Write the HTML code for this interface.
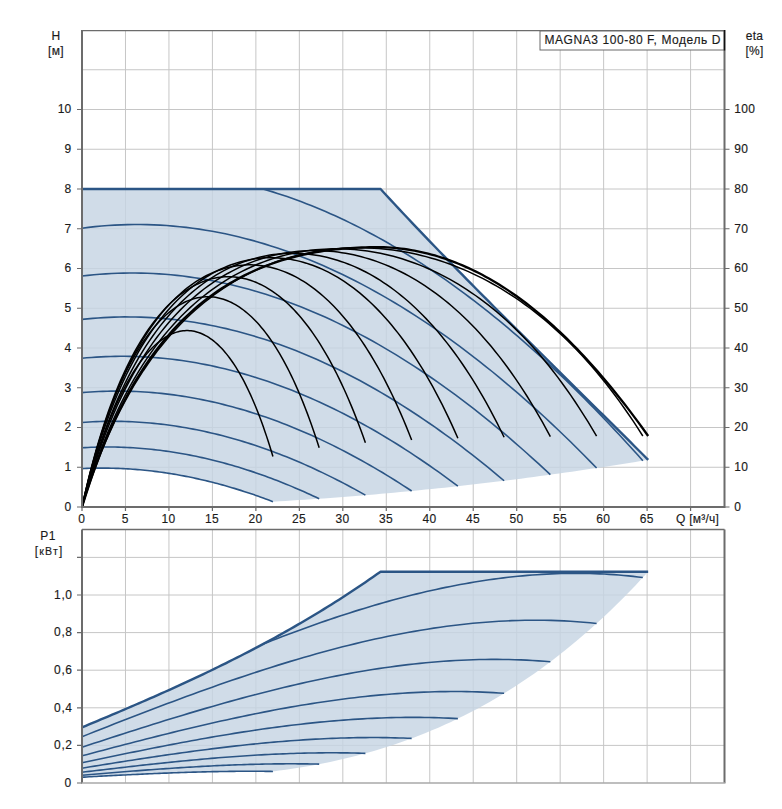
<!DOCTYPE html>
<html><head><meta charset="utf-8"><style>html,body{margin:0;padding:0;background:#fff;width:782px;height:809px;overflow:hidden}</style></head>
<body><svg width="782" height="809" viewBox="0 0 782 809" style="display:block"><rect width="782" height="809" fill="#fff"/><path d="M125.47,30V507M168.94,30V507M212.41,30V507M255.88,30V507M299.35,30V507M342.82,30V507M386.29,30V507M429.76,30V507M473.23,30V507M516.70,30V507M560.17,30V507M603.64,30V507M647.11,30V507M690.58,30V507M82,467.25H724.5M82,427.50H724.5M82,387.75H724.5M82,348.00H724.5M82,308.25H724.5M82,268.50H724.5M82,228.75H724.5M82,189.00H724.5M82,149.25H724.5M82,109.50H724.5M82,69.75H724.5" stroke="#c6c6c6" stroke-width="1" fill="none"/><path d="M82,468.62 L85.24,468.47 L88.47,468.35 L91.71,468.25 L94.94,468.18 L98.18,468.13 L101.42,468.11 L104.65,468.12 L107.89,468.15 L111.13,468.2 L114.36,468.28 L117.6,468.39 L120.83,468.52 L124.07,468.67 L127.31,468.85 L130.54,469.06 L133.78,469.29 L137.01,469.54 L140.25,469.82 L143.49,470.13 L146.72,470.45 L149.96,470.81 L153.19,471.19 L156.43,471.59 L159.67,472.01 L162.9,472.46 L166.14,472.94 L169.38,473.43 L172.61,473.96 L175.85,474.5 L179.08,475.07 L182.32,475.67 L185.56,476.28 L188.79,476.92 L192.03,477.59 L195.26,478.28 L198.5,478.99 L201.74,479.72 L204.97,480.48 L208.21,481.26 L211.45,482.06 L214.68,482.89 L217.92,483.74 L221.15,484.61 L224.39,485.51 L227.63,486.43 L230.86,487.37 L234.1,488.33 L237.33,489.32 L240.57,490.33 L243.81,491.36 L247.04,492.41 L250.28,493.49 L253.52,494.58 L256.75,495.7 L259.99,496.85 L263.22,498.01 L266.46,499.19 L269.7,500.4 L272.93,501.63 L272.93,501.63 L279.29,501.27 L285.65,500.89 L292.01,500.51 L298.37,500.11 L304.73,499.69 L311.09,499.27 L317.45,498.84 L323.81,498.39 L330.17,497.93 L336.53,497.46 L342.89,496.98 L349.25,496.48 L355.61,495.98 L361.97,495.46 L368.33,494.93 L374.69,494.39 L381.05,493.83 L387.41,493.27 L393.77,492.69 L400.13,492.1 L406.49,491.5 L412.85,490.88 L419.21,490.26 L425.57,489.62 L431.93,488.97 L438.29,488.31 L444.65,487.63 L451.01,486.95 L457.37,486.25 L463.73,485.54 L470.09,484.82 L476.45,484.09 L482.81,483.34 L489.17,482.59 L495.53,481.82 L501.89,481.04 L508.24,480.25 L514.6,479.44 L520.96,478.63 L527.32,477.8 L533.68,476.96 L540.04,476.11 L546.4,475.24 L552.76,474.37 L559.12,473.48 L565.48,472.58 L571.84,471.67 L578.2,470.74 L584.56,469.81 L590.92,468.86 L597.28,467.9 L603.64,466.93 L610,465.95 L616.36,464.95 L622.72,463.95 L629.08,462.93 L635.44,461.9 L641.8,460.85 L648.16,459.8 L648.16,459.8 L643.63,455.27 L639.09,450.75 L634.56,446.24 L630.02,441.72 L625.49,437.21 L620.95,432.71 L616.42,428.21 L611.88,423.71 L607.34,419.22 L602.81,414.72 L598.27,410.23 L593.74,405.74 L589.2,401.26 L584.67,396.77 L580.13,392.29 L575.6,387.8 L571.06,383.32 L566.53,378.84 L561.99,374.35 L557.46,369.87 L552.92,365.38 L548.39,360.89 L543.85,356.4 L539.32,351.91 L534.78,347.41 L530.25,342.91 L525.71,338.41 L521.18,333.91 L516.64,329.39 L512.11,324.88 L507.57,320.35 L503.04,315.83 L498.5,311.29 L493.97,306.75 L489.43,302.2 L484.9,297.64 L480.36,293.07 L475.83,288.5 L471.29,283.91 L466.76,279.31 L462.22,274.7 L457.69,270.08 L453.15,265.45 L448.62,260.81 L444.08,256.15 L439.55,251.47 L435.01,246.78 L430.48,242.08 L425.94,237.35 L421.41,232.61 L416.87,227.85 L412.34,223.07 L407.8,218.27 L403.27,213.45 L398.73,208.61 L394.2,203.75 L389.66,198.86 L385.13,193.94 L380.59,189 L82,189 L82,468.62 Z" fill="#c6d4e3" fill-opacity="0.82" stroke="none"/><path d="M82,468.62 L84.42,468.51 L86.83,468.41 L89.25,468.32 L91.67,468.25 L94.08,468.2 L96.5,468.15 L98.92,468.12 L101.33,468.11 L103.75,468.11 L106.17,468.13 L108.59,468.15 L111,468.2 L113.42,468.25 L115.84,468.33 L118.25,468.41 L120.67,468.51 L123.09,468.62 L125.5,468.75 L127.92,468.89 L130.34,469.04 L132.75,469.21 L135.17,469.39 L137.59,469.59 L140,469.8 L142.42,470.02 L144.84,470.26 L147.26,470.51 L149.67,470.78 L152.09,471.05 L154.51,471.34 L156.92,471.65 L159.34,471.97 L161.76,472.3 L164.17,472.65 L166.59,473 L169.01,473.38 L171.42,473.76 L173.84,474.16 L176.26,474.57 L178.67,475 L181.09,475.44 L183.51,475.89 L185.92,476.35 L188.34,476.83 L190.76,477.32 L193.18,477.83 L195.59,478.35 L198.01,478.88 L200.43,479.42 L202.84,479.98 L205.26,480.55 L207.68,481.13 L210.09,481.72 L212.51,482.33 L214.93,482.95 L217.34,483.59 L219.76,484.23 L222.18,484.89 L224.59,485.57 L227.01,486.25 L229.43,486.95 L231.85,487.66 L234.26,488.38 L236.68,489.12 L239.1,489.86 L241.51,490.62 L243.93,491.4 L246.35,492.18 L248.76,492.98 L251.18,493.79 L253.6,494.61 L256.01,495.45 L258.43,496.29 L260.85,497.15 L263.26,498.02 L265.68,498.91 L268.1,499.8 L270.51,500.71 L272.93,501.63" stroke="#2b5585" stroke-width="1.6" fill="none"/><path d="M82,447.78 L85,447.61 L88,447.45 L91.01,447.32 L94.01,447.21 L97.01,447.13 L100.01,447.06 L103.01,447.02 L106.02,447 L109.02,447 L112.02,447.02 L115.02,447.06 L118.03,447.13 L121.03,447.22 L124.03,447.33 L127.03,447.46 L130.03,447.61 L133.04,447.78 L136.04,447.98 L139.04,448.2 L142.04,448.44 L145.04,448.7 L148.05,448.98 L151.05,449.28 L154.05,449.6 L157.05,449.95 L160.06,450.31 L163.06,450.7 L166.06,451.11 L169.06,451.54 L172.06,451.99 L175.07,452.46 L178.07,452.95 L181.07,453.46 L184.07,453.99 L187.07,454.55 L190.08,455.12 L193.08,455.72 L196.08,456.33 L199.08,456.97 L202.09,457.62 L205.09,458.3 L208.09,459 L211.09,459.72 L214.09,460.45 L217.1,461.21 L220.1,461.99 L223.1,462.79 L226.1,463.61 L229.1,464.45 L232.11,465.31 L235.11,466.18 L238.11,467.08 L241.11,468 L244.11,468.94 L247.12,469.9 L250.12,470.88 L253.12,471.87 L256.12,472.89 L259.13,473.93 L262.13,474.98 L265.13,476.06 L268.13,477.16 L271.13,478.27 L274.14,479.41 L277.14,480.56 L280.14,481.73 L283.14,482.92 L286.14,484.14 L289.15,485.37 L292.15,486.62 L295.15,487.89 L298.15,489.17 L301.16,490.48 L304.16,491.81 L307.16,493.15 L310.16,494.51 L313.16,495.9 L316.17,497.3 L319.17,498.72" stroke="#2b5585" stroke-width="1.6" fill="none"/><path d="M82,422.44 L85.59,422.19 L89.17,421.97 L92.76,421.78 L96.35,421.63 L99.94,421.5 L103.52,421.41 L107.11,421.35 L110.7,421.32 L114.29,421.32 L117.87,421.35 L121.46,421.42 L125.05,421.51 L128.64,421.64 L132.22,421.79 L135.81,421.98 L139.4,422.2 L142.99,422.45 L146.57,422.72 L150.16,423.03 L153.75,423.38 L157.34,423.75 L160.92,424.15 L164.51,424.58 L168.1,425.04 L171.68,425.53 L175.27,426.05 L178.86,426.61 L182.45,427.19 L186.03,427.8 L189.62,428.44 L193.21,429.12 L196.8,429.82 L200.38,430.55 L203.97,431.31 L207.56,432.1 L211.15,432.92 L214.73,433.77 L218.32,434.65 L221.91,435.56 L225.5,436.49 L229.08,437.46 L232.67,438.46 L236.26,439.48 L239.85,440.54 L243.43,441.62 L247.02,442.73 L250.61,443.87 L254.2,445.04 L257.78,446.24 L261.37,447.46 L264.96,448.72 L268.54,450 L272.13,451.31 L275.72,452.65 L279.31,454.02 L282.89,455.42 L286.48,456.84 L290.07,458.3 L293.66,459.78 L297.24,461.28 L300.83,462.82 L304.42,464.39 L308.01,465.98 L311.59,467.6 L315.18,469.24 L318.77,470.92 L322.36,472.62 L325.94,474.35 L329.53,476.11 L333.12,477.89 L336.71,479.71 L340.29,481.54 L343.88,483.41 L347.47,485.3 L351.05,487.22 L354.64,489.17 L358.23,491.14 L361.82,493.15 L365.4,495.17" stroke="#2b5585" stroke-width="1.6" fill="none"/><path d="M82,392.6 L86.17,392.26 L90.35,391.96 L94.52,391.71 L98.69,391.5 L102.86,391.33 L107.04,391.21 L111.21,391.12 L115.38,391.08 L119.55,391.08 L123.73,391.13 L127.9,391.21 L132.07,391.34 L136.24,391.51 L140.42,391.72 L144.59,391.97 L148.76,392.27 L152.94,392.61 L157.11,392.98 L161.28,393.4 L165.45,393.86 L169.63,394.36 L173.8,394.91 L177.97,395.49 L182.14,396.12 L186.32,396.78 L190.49,397.49 L194.66,398.24 L198.83,399.02 L203.01,399.85 L207.18,400.72 L211.35,401.63 L215.53,402.58 L219.7,403.57 L223.87,404.6 L228.04,405.67 L232.22,406.78 L236.39,407.93 L240.56,409.12 L244.73,410.34 L248.91,411.61 L253.08,412.92 L257.25,414.27 L261.42,415.65 L265.6,417.08 L269.77,418.54 L273.94,420.05 L278.12,421.59 L282.29,423.17 L286.46,424.79 L290.63,426.45 L294.81,428.15 L298.98,429.89 L303.15,431.66 L307.32,433.47 L311.5,435.32 L315.67,437.21 L319.84,439.14 L324.01,441.11 L328.19,443.11 L332.36,445.15 L336.53,447.23 L340.71,449.35 L344.88,451.5 L349.05,453.69 L353.22,455.92 L357.4,458.19 L361.57,460.49 L365.74,462.83 L369.91,465.21 L374.09,467.62 L378.26,470.07 L382.43,472.56 L386.6,475.09 L390.78,477.65 L394.95,480.24 L399.12,482.88 L403.3,485.55 L407.47,488.26 L411.64,491" stroke="#2b5585" stroke-width="1.6" fill="none"/><path d="M82,358.26 L86.76,357.82 L91.52,357.43 L96.27,357.1 L101.03,356.83 L105.79,356.61 L110.55,356.45 L115.31,356.34 L120.06,356.28 L124.82,356.29 L129.58,356.34 L134.34,356.45 L139.1,356.62 L143.85,356.84 L148.61,357.11 L153.37,357.44 L158.13,357.83 L162.88,358.26 L167.64,358.76 L172.4,359.3 L177.16,359.9 L181.92,360.55 L186.67,361.26 L191.43,362.02 L196.19,362.83 L200.95,363.7 L205.71,364.61 L210.46,365.59 L215.22,366.61 L219.98,367.69 L224.74,368.82 L229.5,370 L234.25,371.23 L239.01,372.52 L243.77,373.86 L248.53,375.25 L253.29,376.69 L258.04,378.19 L262.8,379.73 L267.56,381.33 L272.32,382.98 L277.08,384.68 L281.83,386.43 L286.59,388.23 L291.35,390.09 L296.11,391.99 L300.87,393.95 L305.62,395.95 L310.38,398.01 L315.14,400.11 L319.9,402.27 L324.65,404.48 L329.41,406.74 L334.17,409.04 L338.93,411.4 L343.69,413.81 L348.44,416.26 L353.2,418.77 L357.96,421.33 L362.72,423.93 L367.48,426.58 L372.23,429.29 L376.99,432.04 L381.75,434.84 L386.51,437.69 L391.27,440.59 L396.02,443.53 L400.78,446.53 L405.54,449.57 L410.3,452.66 L415.06,455.8 L419.81,458.99 L424.57,462.22 L429.33,465.51 L434.09,468.84 L438.85,472.21 L443.6,475.64 L448.36,479.11 L453.12,482.63 L457.88,486.2" stroke="#2b5585" stroke-width="1.6" fill="none"/><path d="M82,319.41 L87.34,318.86 L92.69,318.37 L98.03,317.96 L103.37,317.61 L108.72,317.33 L114.06,317.13 L119.4,316.99 L124.75,316.92 L130.09,316.93 L135.43,317 L140.78,317.14 L146.12,317.35 L151.46,317.63 L156.8,317.97 L162.15,318.39 L167.49,318.87 L172.83,319.42 L178.18,320.04 L183.52,320.73 L188.86,321.48 L194.21,322.31 L199.55,323.2 L204.89,324.15 L210.24,325.18 L215.58,326.27 L220.92,327.43 L226.27,328.65 L231.61,329.95 L236.95,331.3 L242.3,332.73 L247.64,334.22 L252.98,335.78 L258.33,337.4 L263.67,339.09 L269.01,340.84 L274.36,342.66 L279.7,344.55 L285.04,346.5 L290.39,348.51 L295.73,350.59 L301.07,352.73 L306.41,354.94 L311.76,357.22 L317.1,359.55 L322.44,361.96 L327.79,364.42 L333.13,366.95 L338.47,369.54 L343.82,372.2 L349.16,374.92 L354.5,377.71 L359.85,380.55 L365.19,383.46 L370.53,386.44 L375.88,389.47 L381.22,392.57 L386.56,395.73 L391.91,398.95 L397.25,402.24 L402.59,405.58 L407.94,408.99 L413.28,412.46 L418.62,415.99 L423.97,419.59 L429.31,423.24 L434.65,426.96 L439.99,430.74 L445.34,434.57 L450.68,438.47 L456.02,442.43 L461.37,446.45 L466.71,450.53 L472.05,454.67 L477.4,458.87 L482.74,463.13 L488.08,467.45 L493.43,471.83 L498.77,476.27 L504.11,480.76" stroke="#2b5585" stroke-width="1.6" fill="none"/><path d="M82,276.07 L87.93,275.38 L93.86,274.79 L99.79,274.27 L105.71,273.85 L111.64,273.51 L117.57,273.25 L123.5,273.09 L129.43,273 L135.36,273.01 L141.28,273.09 L147.21,273.27 L153.14,273.53 L159.07,273.87 L165,274.29 L170.93,274.81 L176.86,275.4 L182.78,276.08 L188.71,276.84 L194.64,277.69 L200.57,278.62 L206.5,279.63 L212.43,280.73 L218.35,281.91 L224.28,283.17 L230.21,284.51 L236.14,285.94 L242.07,287.44 L248,289.04 L253.93,290.71 L259.85,292.46 L265.78,294.3 L271.71,296.21 L277.64,298.21 L283.57,300.29 L289.5,302.45 L295.43,304.69 L301.35,307.01 L307.28,309.41 L313.21,311.89 L319.14,314.45 L325.07,317.09 L331,319.81 L336.92,322.61 L342.85,325.48 L348.78,328.44 L354.71,331.48 L360.64,334.59 L366.57,337.78 L372.5,341.05 L378.42,344.4 L384.35,347.83 L390.28,351.33 L396.21,354.92 L402.14,358.58 L408.07,362.31 L413.99,366.13 L419.92,370.02 L425.85,373.99 L431.78,378.03 L437.71,382.15 L443.64,386.35 L449.57,390.62 L455.49,394.97 L461.42,399.39 L467.35,403.89 L473.28,408.46 L479.21,413.11 L485.14,417.84 L491.06,422.64 L496.99,427.51 L502.92,432.46 L508.85,437.48 L514.78,442.58 L520.71,447.75 L526.64,452.99 L532.56,458.31 L538.49,463.7 L544.42,469.16 L550.35,474.7" stroke="#2b5585" stroke-width="1.6" fill="none"/><path d="M82,228.22 L88.51,227.4 L95.03,226.67 L101.54,226.06 L108.05,225.54 L114.57,225.13 L121.08,224.83 L127.6,224.62 L134.11,224.52 L140.62,224.53 L147.14,224.63 L153.65,224.84 L160.16,225.15 L166.68,225.56 L173.19,226.08 L179.71,226.7 L186.22,227.42 L192.73,228.23 L199.25,229.16 L205.76,230.18 L212.27,231.3 L218.79,232.52 L225.3,233.84 L231.82,235.27 L238.33,236.79 L244.84,238.41 L251.36,240.13 L257.87,241.96 L264.38,243.88 L270.9,245.89 L277.41,248.01 L283.93,250.23 L290.44,252.54 L296.95,254.95 L303.47,257.46 L309.98,260.07 L316.49,262.77 L323.01,265.57 L329.52,268.47 L336.04,271.46 L342.55,274.55 L349.06,277.74 L355.58,281.02 L362.09,284.4 L368.6,287.88 L375.12,291.45 L381.63,295.11 L388.15,298.87 L394.66,302.72 L401.17,306.67 L407.69,310.72 L414.2,314.85 L420.71,319.08 L427.23,323.41 L433.74,327.83 L440.26,332.34 L446.77,336.94 L453.28,341.64 L459.8,346.43 L466.31,351.31 L472.82,356.28 L479.34,361.35 L485.85,366.51 L492.37,371.75 L498.88,377.09 L505.39,382.53 L511.91,388.05 L518.42,393.66 L524.93,399.36 L531.45,405.16 L537.96,411.04 L544.48,417.01 L550.99,423.08 L557.5,429.23 L564.02,435.47 L570.53,441.8 L577.04,448.22 L583.56,454.73 L590.07,461.32 L596.59,468.01" stroke="#2b5585" stroke-width="1.6" fill="none"/><path d="M263.07,189 L267.88,190.41 L272.69,191.88 L277.49,193.4 L282.3,194.97 L287.11,196.6 L291.91,198.28 L296.72,200.02 L301.53,201.81 L306.34,203.65 L311.14,205.54 L315.95,207.49 L320.76,209.49 L325.56,211.55 L330.37,213.66 L335.18,215.82 L339.98,218.03 L344.79,220.3 L349.6,222.62 L354.4,224.99 L359.21,227.41 L364.02,229.89 L368.83,232.42 L373.63,235 L378.44,237.64 L383.25,240.32 L388.05,243.06 L392.86,245.85 L397.67,248.69 L402.47,251.59 L407.28,254.53 L412.09,257.53 L416.9,260.58 L421.7,263.68 L426.51,266.83 L431.32,270.04 L436.12,273.29 L440.93,276.6 L445.74,279.96 L450.54,283.36 L455.35,286.82 L460.16,290.33 L464.96,293.9 L469.77,297.51 L474.58,301.17 L479.39,304.88 L484.19,308.65 L489,312.46 L493.81,316.33 L498.61,320.24 L503.42,324.21 L508.23,328.22 L513.03,332.29 L517.84,336.4 L522.65,340.57 L527.46,344.78 L532.26,349.05 L537.07,353.36 L541.88,357.73 L546.68,362.14 L551.49,366.6 L556.3,371.11 L561.1,375.68 L565.91,380.29 L570.72,384.95 L575.52,389.66 L580.33,394.41 L585.14,399.22 L589.95,404.08 L594.75,408.98 L599.56,413.93 L604.37,418.93 L609.17,423.98 L613.98,429.08 L618.79,434.23 L623.59,439.43 L628.4,444.67 L633.21,449.96 L638.02,455.3 L642.82,460.69" stroke="#2b5585" stroke-width="1.6" fill="none"/><path d="M82,189 L380.59,189 L380.59,189 L385.13,193.94 L389.66,198.86 L394.2,203.75 L398.73,208.61 L403.27,213.45 L407.8,218.27 L412.34,223.07 L416.87,227.85 L421.41,232.61 L425.94,237.35 L430.48,242.08 L435.01,246.78 L439.55,251.47 L444.08,256.15 L448.62,260.81 L453.15,265.45 L457.69,270.08 L462.22,274.7 L466.76,279.31 L471.29,283.91 L475.83,288.5 L480.36,293.07 L484.9,297.64 L489.43,302.2 L493.97,306.75 L498.5,311.29 L503.04,315.83 L507.57,320.35 L512.11,324.88 L516.64,329.39 L521.18,333.91 L525.71,338.41 L530.25,342.91 L534.78,347.41 L539.32,351.91 L543.85,356.4 L548.39,360.89 L552.92,365.38 L557.46,369.87 L561.99,374.35 L566.53,378.84 L571.06,383.32 L575.6,387.8 L580.13,392.29 L584.67,396.77 L589.2,401.26 L593.74,405.74 L598.27,410.23 L602.81,414.72 L607.34,419.22 L611.88,423.71 L616.42,428.21 L620.95,432.71 L625.49,437.21 L630.02,441.72 L634.56,446.24 L639.09,450.75 L643.63,455.27 L648.16,459.8" stroke="#2b5585" stroke-width="2.4" fill="none" stroke-linejoin="round"/><path d="M82,507 L83.6,500.82 L85.21,494.8 L86.81,488.93 L88.42,483.21 L90.02,477.64 L91.63,472.21 L93.23,466.92 L94.84,461.77 L96.44,456.75 L98.04,451.85 L99.65,447.09 L101.25,442.45 L102.86,437.93 L104.46,433.53 L106.07,429.25 L107.67,425.08 L109.28,421.02 L110.88,417.07 L112.48,413.23 L114.09,409.49 L115.69,405.86 L117.3,402.33 L118.9,398.89 L120.51,395.56 L122.11,392.32 L123.72,389.18 L125.32,386.14 L126.93,383.18 L128.53,380.32 L130.13,377.54 L131.74,374.85 L133.34,372.26 L134.95,369.74 L136.55,367.31 L138.16,364.97 L139.76,362.71 L141.37,360.53 L142.97,358.44 L144.57,356.42 L146.18,354.49 L147.78,352.63 L149.39,350.85 L150.99,349.15 L152.6,347.53 L154.2,345.98 L155.81,344.51 L157.41,343.11 L159.01,341.79 L160.62,340.55 L162.22,339.38 L163.83,338.28 L165.43,337.26 L167.04,336.31 L168.64,335.43 L170.25,334.63 L171.85,333.9 L173.45,333.25 L175.06,332.66 L176.66,332.15 L178.27,331.71 L179.87,331.34 L181.48,331.05 L183.08,330.83 L184.69,330.68 L186.29,330.61 L187.89,330.61 L189.5,330.68 L191.1,330.83 L192.71,331.05 L194.31,331.35 L195.92,331.72 L197.52,332.16 L199.13,332.69 L200.73,333.29 L202.34,333.96 L203.94,334.72 L205.54,335.55 L207.15,336.46 L208.75,337.45 L210.36,338.52 L211.96,339.67 L213.57,340.91 L215.17,342.23 L216.78,343.63 L218.38,345.11 L219.98,346.69 L221.59,348.35 L223.19,350.1 L224.8,351.93 L226.4,353.86 L228.01,355.88 L229.61,358 L231.22,360.21 L232.82,362.51 L234.42,364.91 L236.03,367.42 L237.63,370.02 L239.24,372.72 L240.84,375.53 L242.45,378.45 L244.05,381.47 L245.66,384.6 L247.26,387.84 L248.86,391.2 L250.47,394.67 L252.07,398.25 L253.68,401.96 L255.28,405.79 L256.89,409.74 L258.49,413.81 L260.1,418.01 L261.7,422.34 L263.31,426.81 L264.91,431.4 L266.51,436.13 L268.12,441 L269.72,446.01 L271.33,451.16 L272.93,456.46" stroke="#000" stroke-width="1.5" fill="none"/><path d="M82,507 L83.99,498.27 L85.99,489.86 L87.98,481.77 L89.97,473.98 L91.97,466.46 L93.96,459.22 L95.95,452.24 L97.94,445.5 L99.94,439 L101.93,432.72 L103.92,426.66 L105.92,420.81 L107.91,415.16 L109.9,409.7 L111.9,404.43 L113.89,399.33 L115.88,394.41 L117.87,389.66 L119.87,385.07 L121.86,380.63 L123.85,376.35 L125.85,372.22 L127.84,368.22 L129.83,364.37 L131.83,360.65 L133.82,357.06 L135.81,353.6 L137.8,350.27 L139.8,347.05 L141.79,343.96 L143.78,340.98 L145.78,338.12 L147.77,335.36 L149.76,332.72 L151.76,330.18 L153.75,327.75 L155.74,325.42 L157.73,323.19 L159.73,321.06 L161.72,319.03 L163.71,317.09 L165.71,315.25 L167.7,313.5 L169.69,311.85 L171.69,310.28 L173.68,308.81 L175.67,307.42 L177.66,306.12 L179.66,304.91 L181.65,303.79 L183.64,302.75 L185.64,301.79 L187.63,300.92 L189.62,300.14 L191.62,299.43 L193.61,298.81 L195.6,298.27 L197.59,297.81 L199.59,297.44 L201.58,297.14 L203.57,296.93 L205.57,296.8 L207.56,296.75 L209.55,296.78 L211.55,296.89 L213.54,297.09 L215.53,297.36 L217.52,297.72 L219.52,298.16 L221.51,298.68 L223.5,299.28 L225.5,299.97 L227.49,300.74 L229.48,301.6 L231.48,302.54 L233.47,303.56 L235.46,304.68 L237.45,305.87 L239.45,307.16 L241.44,308.54 L243.43,310 L245.43,311.56 L247.42,313.2 L249.41,314.94 L251.41,316.78 L253.4,318.71 L255.39,320.73 L257.38,322.86 L259.38,325.08 L261.37,327.41 L263.36,329.83 L265.36,332.36 L267.35,335 L269.34,337.74 L271.34,340.6 L273.33,343.56 L275.32,346.64 L277.31,349.83 L279.31,353.14 L281.3,356.57 L283.29,360.12 L285.29,363.79 L287.28,367.6 L289.27,371.52 L291.27,375.59 L293.26,379.78 L295.25,384.11 L297.25,388.58 L299.24,393.19 L301.23,397.95 L303.22,402.85 L305.22,407.91 L307.21,413.11 L309.2,418.47 L311.2,423.99 L313.19,429.68 L315.18,435.52 L317.18,441.54 L319.17,447.73" stroke="#000" stroke-width="1.5" fill="none"/><path d="M82,507 L84.38,496.27 L86.76,486.05 L89.14,476.29 L91.53,466.98 L93.91,458.08 L96.29,449.56 L98.67,441.42 L101.05,433.61 L103.43,426.14 L105.82,418.97 L108.2,412.09 L110.58,405.49 L112.96,399.15 L115.34,393.07 L117.72,387.22 L120.1,381.6 L122.49,376.2 L124.87,371.02 L127.25,366.03 L129.63,361.23 L132.01,356.62 L134.39,352.19 L136.78,347.93 L139.16,343.84 L141.54,339.9 L143.92,336.12 L146.3,332.49 L148.68,329.01 L151.06,325.66 L153.45,322.45 L155.83,319.38 L158.21,316.43 L160.59,313.61 L162.97,310.91 L165.35,308.33 L167.74,305.87 L170.12,303.52 L172.5,301.28 L174.88,299.15 L177.26,297.13 L179.64,295.21 L182.03,293.4 L184.41,291.69 L186.79,290.08 L189.17,288.56 L191.55,287.14 L193.93,285.82 L196.31,284.59 L198.7,283.45 L201.08,282.4 L203.46,281.45 L205.84,280.58 L208.22,279.81 L210.6,279.12 L212.99,278.52 L215.37,278 L217.75,277.58 L220.13,277.23 L222.51,276.98 L224.89,276.81 L227.27,276.72 L229.66,276.72 L232.04,276.8 L234.42,276.97 L236.8,277.22 L239.18,277.56 L241.56,277.98 L243.95,278.49 L246.33,279.08 L248.71,279.76 L251.09,280.52 L253.47,281.37 L255.85,282.31 L258.23,283.34 L260.62,284.45 L263,285.65 L265.38,286.94 L267.76,288.33 L270.14,289.8 L272.52,291.36 L274.91,293.02 L277.29,294.78 L279.67,296.63 L282.05,298.57 L284.43,300.62 L286.81,302.76 L289.19,305.01 L291.58,307.36 L293.96,309.81 L296.34,312.37 L298.72,315.03 L301.1,317.8 L303.48,320.69 L305.87,323.69 L308.25,326.8 L310.63,330.03 L313.01,333.38 L315.39,336.86 L317.77,340.45 L320.15,344.18 L322.54,348.03 L324.92,352.01 L327.3,356.13 L329.68,360.39 L332.06,364.78 L334.44,369.32 L336.83,374.01 L339.21,378.84 L341.59,383.82 L343.97,388.96 L346.35,394.26 L348.73,399.72 L351.12,405.35 L353.5,411.14 L355.88,417.11 L358.26,423.25 L360.64,429.57 L363.02,436.07 L365.4,442.76" stroke="#000" stroke-width="1.5" fill="none"/><path d="M82,507 L84.77,494.84 L87.54,483.34 L90.31,472.44 L93.08,462.09 L95.85,452.26 L98.62,442.91 L101.39,434.01 L104.16,425.53 L106.93,417.44 L109.7,409.72 L112.47,402.35 L115.24,395.3 L118.01,388.57 L120.78,382.12 L123.55,375.95 L126.32,370.04 L129.09,364.39 L131.86,358.97 L134.63,353.77 L137.4,348.79 L140.17,344.02 L142.94,339.45 L145.71,335.06 L148.48,330.86 L151.25,326.83 L154.02,322.97 L156.79,319.28 L159.56,315.74 L162.33,312.35 L165.1,309.11 L167.87,306.01 L170.64,303.05 L173.41,300.22 L176.18,297.52 L178.95,294.95 L181.72,292.5 L184.49,290.17 L187.26,287.96 L190.03,285.86 L192.8,283.87 L195.57,281.99 L198.34,280.22 L201.11,278.55 L203.88,276.99 L206.65,275.53 L209.42,274.17 L212.19,272.9 L214.96,271.74 L217.73,270.66 L220.5,269.69 L223.27,268.8 L226.04,268.01 L228.81,267.3 L231.58,266.69 L234.35,266.17 L237.13,265.73 L239.9,265.39 L242.67,265.13 L245.44,264.96 L248.21,264.87 L250.98,264.87 L253.75,264.96 L256.52,265.14 L259.29,265.4 L262.06,265.74 L264.83,266.17 L267.6,266.69 L270.37,267.3 L273.14,267.99 L275.91,268.77 L278.68,269.63 L281.45,270.59 L284.22,271.63 L286.99,272.76 L289.76,273.98 L292.53,275.29 L295.3,276.7 L298.07,278.19 L300.84,279.78 L303.61,281.46 L306.38,283.24 L309.15,285.11 L311.92,287.08 L314.69,289.15 L317.46,291.32 L320.23,293.6 L323,295.97 L325.77,298.45 L328.54,301.04 L331.31,303.73 L334.08,306.54 L336.85,309.45 L339.62,312.49 L342.39,315.63 L345.16,318.9 L347.93,322.28 L350.7,325.79 L353.47,329.43 L356.24,333.19 L359.01,337.08 L361.78,341.11 L364.55,345.27 L367.32,349.57 L370.09,354.01 L372.86,358.6 L375.63,363.33 L378.4,368.22 L381.17,373.26 L383.94,378.46 L386.71,383.82 L389.48,389.34 L392.25,395.04 L395.02,400.9 L397.79,406.94 L400.56,413.16 L403.33,419.56 L406.1,426.15 L408.87,432.94 L411.64,439.91" stroke="#000" stroke-width="1.5" fill="none"/><path d="M82,507 L85.16,493.86 L88.32,481.48 L91.48,469.81 L94.63,458.77 L97.79,448.34 L100.95,438.45 L104.11,429.06 L107.27,420.15 L110.43,411.68 L113.59,403.63 L116.74,395.95 L119.9,388.64 L123.06,381.66 L126.22,375.01 L129.38,368.65 L132.54,362.58 L135.7,356.78 L138.86,351.23 L142.01,345.93 L145.17,340.85 L148.33,336 L151.49,331.36 L154.65,326.91 L157.81,322.66 L160.97,318.6 L164.12,314.71 L167.28,310.99 L170.44,307.43 L173.6,304.03 L176.76,300.79 L179.92,297.69 L183.08,294.73 L186.23,291.92 L189.39,289.23 L192.55,286.68 L195.71,284.25 L198.87,281.94 L202.03,279.76 L205.19,277.69 L208.35,275.74 L211.5,273.89 L214.66,272.16 L217.82,270.53 L220.98,269.01 L224.14,267.59 L227.3,266.28 L230.46,265.06 L233.61,263.94 L236.77,262.91 L239.93,261.98 L243.09,261.15 L246.25,260.41 L249.41,259.76 L252.57,259.2 L255.72,258.73 L258.88,258.35 L262.04,258.06 L265.2,257.86 L268.36,257.74 L271.52,257.72 L274.68,257.78 L277.84,257.92 L280.99,258.16 L284.15,258.48 L287.31,258.89 L290.47,259.38 L293.63,259.96 L296.79,260.63 L299.95,261.38 L303.1,262.23 L306.26,263.16 L309.42,264.18 L312.58,265.28 L315.74,266.48 L318.9,267.77 L322.06,269.15 L325.21,270.62 L328.37,272.19 L331.53,273.85 L334.69,275.6 L337.85,277.45 L341.01,279.4 L344.17,281.44 L347.32,283.59 L350.48,285.83 L353.64,288.18 L356.8,290.64 L359.96,293.2 L363.12,295.86 L366.28,298.64 L369.44,301.53 L372.59,304.53 L375.75,307.65 L378.91,310.89 L382.07,314.24 L385.23,317.72 L388.39,321.32 L391.55,325.05 L394.7,328.91 L397.86,332.91 L401.02,337.03 L404.18,341.3 L407.34,345.71 L410.5,350.26 L413.66,354.96 L416.81,359.81 L419.97,364.81 L423.13,369.98 L426.29,375.3 L429.45,380.79 L432.61,386.45 L435.77,392.27 L438.93,398.28 L442.08,404.46 L445.24,410.83 L448.4,417.39 L451.56,424.14 L454.72,431.09 L457.88,438.23" stroke="#000" stroke-width="1.5" fill="none"/><path d="M82,507 L85.55,493.18 L89.09,480.22 L92.64,468.02 L96.19,456.53 L99.74,445.69 L103.28,435.45 L106.83,425.76 L110.38,416.57 L113.92,407.86 L117.47,399.59 L121.02,391.73 L124.57,384.25 L128.11,377.13 L131.66,370.35 L135.21,363.88 L138.75,357.72 L142.3,351.83 L145.85,346.22 L149.4,340.85 L152.94,335.73 L156.49,330.83 L160.04,326.15 L163.58,321.68 L167.13,317.41 L170.68,313.33 L174.23,309.43 L177.77,305.7 L181.32,302.14 L184.87,298.75 L188.42,295.51 L191.96,292.42 L195.51,289.47 L199.06,286.67 L202.6,284 L206.15,281.47 L209.7,279.06 L213.25,276.78 L216.79,274.62 L220.34,272.57 L223.89,270.65 L227.43,268.83 L230.98,267.13 L234.53,265.53 L238.08,264.04 L241.62,262.65 L245.17,261.37 L248.72,260.18 L252.26,259.1 L255.81,258.11 L259.36,257.21 L262.91,256.41 L266.45,255.71 L270,255.1 L273.55,254.57 L277.09,254.14 L280.64,253.8 L284.19,253.55 L287.74,253.39 L291.28,253.31 L294.83,253.32 L298.38,253.42 L301.92,253.61 L305.47,253.88 L309.02,254.24 L312.57,254.69 L316.11,255.22 L319.66,255.85 L323.21,256.55 L326.75,257.35 L330.3,258.24 L333.85,259.21 L337.4,260.27 L340.94,261.42 L344.49,262.66 L348.04,263.99 L351.58,265.42 L355.13,266.93 L358.68,268.54 L362.23,270.24 L365.77,272.04 L369.32,273.94 L372.87,275.93 L376.42,278.02 L379.96,280.21 L383.51,282.51 L387.06,284.9 L390.6,287.41 L394.15,290.01 L397.7,292.73 L401.25,295.56 L404.79,298.5 L408.34,301.55 L411.89,304.73 L415.43,308.02 L418.98,311.43 L422.53,314.96 L426.08,318.62 L429.62,322.41 L433.17,326.33 L436.72,330.38 L440.26,334.57 L443.81,338.9 L447.36,343.37 L450.91,347.99 L454.45,352.76 L458,357.68 L461.55,362.76 L465.09,367.99 L468.64,373.39 L472.19,378.96 L475.74,384.7 L479.28,390.61 L482.83,396.7 L486.38,402.97 L489.92,409.43 L493.47,416.08 L497.02,422.92 L500.57,429.97 L504.11,437.22" stroke="#000" stroke-width="1.5" fill="none"/><path d="M82,507 L85.94,492.72 L89.87,479.35 L93.81,466.8 L97.74,455.01 L101.68,443.9 L105.61,433.42 L109.55,423.53 L113.49,414.16 L117.42,405.3 L121.36,396.89 L125.29,388.91 L129.23,381.33 L133.16,374.12 L137.1,367.26 L141.04,360.73 L144.97,354.5 L148.91,348.57 L152.84,342.91 L156.78,337.52 L160.71,332.36 L164.65,327.45 L168.59,322.75 L172.52,318.27 L176.46,313.99 L180.39,309.9 L184.33,306 L188.26,302.27 L192.2,298.72 L196.14,295.33 L200.07,292.1 L204.01,289.02 L207.94,286.09 L211.88,283.3 L215.81,280.65 L219.75,278.13 L223.69,275.74 L227.62,273.47 L231.56,271.33 L235.49,269.31 L239.43,267.4 L243.36,265.61 L247.3,263.93 L251.24,262.35 L255.17,260.89 L259.11,259.52 L263.04,258.26 L266.98,257.1 L270.91,256.04 L274.85,255.07 L278.79,254.21 L282.72,253.43 L286.66,252.75 L290.59,252.17 L294.53,251.67 L298.46,251.26 L302.4,250.95 L306.34,250.72 L310.27,250.59 L314.21,250.54 L318.14,250.58 L322.08,250.7 L326.01,250.92 L329.95,251.22 L333.89,251.6 L337.82,252.08 L341.76,252.64 L345.69,253.29 L349.63,254.02 L353.56,254.85 L357.5,255.76 L361.44,256.76 L365.37,257.85 L369.31,259.03 L373.24,260.3 L377.18,261.66 L381.11,263.11 L385.05,264.65 L388.99,266.29 L392.92,268.02 L396.86,269.85 L400.79,271.77 L404.73,273.79 L408.66,275.91 L412.6,278.14 L416.54,280.46 L420.47,282.89 L424.41,285.42 L428.34,288.06 L432.28,290.81 L436.21,293.67 L440.15,296.64 L444.09,299.73 L448.02,302.93 L451.96,306.25 L455.89,309.7 L459.83,313.27 L463.76,316.96 L467.7,320.79 L471.64,324.74 L475.57,328.84 L479.51,333.06 L483.44,337.43 L487.38,341.95 L491.31,346.6 L495.25,351.41 L499.19,356.38 L503.12,361.5 L507.06,366.78 L510.99,372.22 L514.93,377.84 L518.86,383.62 L522.8,389.58 L526.74,395.73 L530.67,402.05 L534.61,408.56 L538.54,415.27 L542.48,422.18 L546.41,429.28 L550.35,436.59" stroke="#000" stroke-width="1.5" fill="none"/><path d="M82,507 L86.32,492.4 L90.65,478.75 L94.97,465.96 L99.3,453.96 L103.62,442.67 L107.95,432.04 L112.27,422 L116.59,412.52 L120.92,403.55 L125.24,395.06 L129.57,387 L133.89,379.35 L138.22,372.09 L142.54,365.18 L146.86,358.61 L151.19,352.35 L155.51,346.39 L159.84,340.71 L164.16,335.3 L168.49,330.13 L172.81,325.2 L177.13,320.5 L181.46,316.01 L185.78,311.73 L190.11,307.64 L194.43,303.75 L198.75,300.03 L203.08,296.48 L207.4,293.1 L211.73,289.87 L216.05,286.8 L220.38,283.88 L224.7,281.11 L229.02,278.47 L233.35,275.96 L237.67,273.59 L242,271.34 L246.32,269.21 L250.65,267.2 L254.97,265.31 L259.29,263.54 L263.62,261.87 L267.94,260.32 L272.27,258.87 L276.59,257.52 L280.92,256.28 L285.24,255.14 L289.56,254.09 L293.89,253.15 L298.21,252.3 L302.54,251.54 L306.86,250.88 L311.19,250.31 L315.51,249.83 L319.83,249.45 L324.16,249.15 L328.48,248.94 L332.81,248.83 L337.13,248.79 L341.46,248.85 L345.78,249 L350.1,249.23 L354.43,249.55 L358.75,249.95 L363.08,250.45 L367.4,251.03 L371.72,251.69 L376.05,252.45 L380.37,253.29 L384.7,254.22 L389.02,255.24 L393.35,256.35 L397.67,257.54 L401.99,258.83 L406.32,260.21 L410.64,261.68 L414.97,263.24 L419.29,264.9 L423.62,266.65 L427.94,268.49 L432.26,270.44 L436.59,272.48 L440.91,274.62 L445.24,276.86 L449.56,279.2 L453.89,281.65 L458.21,284.2 L462.53,286.86 L466.86,289.63 L471.18,292.51 L475.51,295.5 L479.83,298.61 L484.16,301.83 L488.48,305.18 L492.8,308.64 L497.13,312.23 L501.45,315.95 L505.78,319.8 L510.1,323.77 L514.43,327.89 L518.75,332.14 L523.07,336.53 L527.4,341.07 L531.72,345.76 L536.05,350.59 L540.37,355.58 L544.69,360.73 L549.02,366.03 L553.34,371.51 L557.67,377.15 L561.99,382.97 L566.32,388.96 L570.64,395.13 L574.96,401.49 L579.29,408.04 L583.61,414.78 L587.94,421.72 L592.26,428.86 L596.59,436.21" stroke="#000" stroke-width="1.5" fill="none"/><path d="M82,507 L86.71,492.17 L91.43,478.33 L96.14,465.38 L100.85,453.23 L105.56,441.82 L110.28,431.08 L114.99,420.95 L119.7,411.4 L124.42,402.36 L129.13,393.81 L133.84,385.7 L138.55,378.01 L143.27,370.71 L147.98,363.78 L152.69,357.18 L157.4,350.9 L162.12,344.93 L166.83,339.24 L171.54,333.81 L176.26,328.64 L180.97,323.71 L185.68,319 L190.39,314.52 L195.11,310.24 L199.82,306.15 L204.53,302.26 L209.25,298.55 L213.96,295 L218.67,291.63 L223.38,288.42 L228.1,285.36 L232.81,282.45 L237.52,279.68 L242.23,277.05 L246.95,274.56 L251.66,272.19 L256.37,269.96 L261.09,267.84 L265.8,265.85 L270.51,263.97 L275.22,262.21 L279.94,260.56 L284.65,259.02 L289.36,257.58 L294.08,256.25 L298.79,255.02 L303.5,253.89 L308.21,252.86 L312.93,251.93 L317.64,251.09 L322.35,250.35 L327.07,249.7 L331.78,249.15 L336.49,248.68 L341.2,248.31 L345.92,248.03 L350.63,247.84 L355.34,247.73 L360.05,247.71 L364.77,247.78 L369.48,247.94 L374.19,248.19 L378.91,248.52 L383.62,248.94 L388.33,249.44 L393.04,250.04 L397.76,250.72 L402.47,251.48 L407.18,252.34 L411.9,253.28 L416.61,254.31 L421.32,255.43 L426.03,256.64 L430.75,257.94 L435.46,259.33 L440.17,260.81 L444.88,262.39 L449.6,264.05 L454.31,265.82 L459.02,267.68 L463.74,269.63 L468.45,271.68 L473.16,273.84 L477.87,276.09 L482.59,278.44 L487.3,280.9 L492.01,283.47 L496.73,286.14 L501.44,288.92 L506.15,291.81 L510.86,294.82 L515.58,297.94 L520.29,301.17 L525,304.53 L529.72,308.01 L534.43,311.61 L539.14,315.34 L543.85,319.2 L548.57,323.2 L553.28,327.33 L557.99,331.59 L562.7,336 L567.42,340.55 L572.13,345.25 L576.84,350.1 L581.56,355.1 L586.27,360.27 L590.98,365.59 L595.69,371.08 L600.41,376.74 L605.12,382.57 L609.83,388.58 L614.55,394.78 L619.26,401.15 L623.97,407.72 L628.68,414.48 L633.4,421.44 L638.11,428.61 L642.82,435.98" stroke="#000" stroke-width="1.5" fill="none"/><path d="M82,507 L85.78,494.82 L89.56,483.3 L93.34,472.37 L97.12,462.01 L100.9,452.17 L104.68,442.8 L108.46,433.89 L112.24,425.4 L116.02,417.3 L119.8,409.57 L123.58,402.19 L127.36,395.13 L131.14,388.39 L134.91,381.93 L138.69,375.74 L142.47,369.82 L146.25,364.14 L150.03,358.7 L153.81,353.48 L157.59,348.48 L161.37,343.67 L165.15,339.06 L168.93,334.63 L172.71,330.38 L176.49,326.3 L180.27,322.38 L184.05,318.61 L187.83,314.99 L191.61,311.52 L195.39,308.18 L199.17,304.98 L202.95,301.9 L206.73,298.95 L210.51,296.11 L214.29,293.39 L218.07,290.78 L221.85,288.28 L225.63,285.88 L229.41,283.57 L233.18,281.37 L236.96,279.26 L240.74,277.23 L244.52,275.3 L248.3,273.45 L252.08,271.68 L255.86,270 L259.64,268.39 L263.42,266.85 L267.2,265.39 L270.98,264 L274.76,262.67 L278.54,261.42 L282.32,260.23 L286.1,259.1 L289.88,258.03 L293.66,257.03 L297.44,256.08 L301.22,255.19 L305,254.35 L308.78,253.57 L312.56,252.83 L316.34,252.15 L320.12,251.52 L323.9,250.94 L327.68,250.4 L331.45,249.91 L335.23,249.46 L339.01,249.06 L342.79,248.7 L346.57,248.38 L350.35,248.1 L354.13,247.86 L357.91,247.65 L361.69,247.48 L365.47,247.35 L369.25,247.26 L373.03,247.19 L376.81,247.16 L380.59,247.17 L380.59,247.17 L383.98,247.26 L387.36,247.41 L390.75,247.61 L394.14,247.88 L397.52,248.2 L400.91,248.57 L404.3,249.01 L407.69,249.5 L411.07,250.05 L414.46,250.65 L417.85,251.31 L421.23,252.03 L424.62,252.81 L428.01,253.64 L431.39,254.53 L434.78,255.48 L438.17,256.48 L441.56,257.55 L444.94,258.67 L448.33,259.85 L451.72,261.08 L455.1,262.38 L458.49,263.73 L461.88,265.14 L465.26,266.61 L468.65,268.14 L472.04,269.73 L475.43,271.38 L478.81,273.09 L482.2,274.85 L485.59,276.68 L488.97,278.56 L492.36,280.5 L495.75,282.51 L499.13,284.57 L502.52,286.7 L505.91,288.88 L509.29,291.13 L512.68,293.43 L516.07,295.8 L519.46,298.23 L522.84,300.72 L526.23,303.27 L529.62,305.88 L533,308.55 L536.39,311.28 L539.78,314.08 L543.16,316.94 L546.55,319.86 L549.94,322.84 L553.33,325.88 L556.71,328.99 L560.1,332.15 L563.49,335.38 L566.87,338.67 L570.26,342.03 L573.65,345.44 L577.03,348.92 L580.42,352.46 L583.81,356.06 L587.2,359.72 L590.58,363.44 L593.97,367.23 L597.36,371.07 L600.74,374.98 L604.13,378.95 L607.52,382.98 L610.9,387.07 L614.29,391.22 L617.68,395.43 L621.07,399.7 L624.45,404.03 L627.84,408.42 L631.23,412.86 L634.61,417.37 L638,421.93 L641.39,426.55 L644.77,431.23 L648.16,435.96" stroke="#000" stroke-width="2.3" fill="none"/><path d="M125.47,529.5V783M168.94,529.5V783M212.41,529.5V783M255.88,529.5V783M299.35,529.5V783M342.82,529.5V783M386.29,529.5V783M429.76,529.5V783M473.23,529.5V783M516.70,529.5V783M560.17,529.5V783M603.64,529.5V783M647.11,529.5V783M690.58,529.5V783M82,745.40H724.5M82,707.80H724.5M82,670.20H724.5M82,632.60H724.5M82,595.00H724.5M82,557.40H724.5" stroke="#c6c6c6" stroke-width="1" fill="none"/><path d="M82,777.22 L85.24,777.04 L88.47,776.87 L91.71,776.69 L94.94,776.52 L98.18,776.34 L101.42,776.17 L104.65,776 L107.89,775.83 L111.13,775.66 L114.36,775.49 L117.6,775.32 L120.83,775.16 L124.07,775 L127.31,774.84 L130.54,774.68 L133.78,774.52 L137.01,774.37 L140.25,774.21 L143.49,774.06 L146.72,773.92 L149.96,773.77 L153.19,773.63 L156.43,773.49 L159.67,773.36 L162.9,773.22 L166.14,773.09 L169.38,772.97 L172.61,772.85 L175.85,772.73 L179.08,772.61 L182.32,772.5 L185.56,772.39 L188.79,772.29 L192.03,772.19 L195.26,772.1 L198.5,772.01 L201.74,771.92 L204.97,771.84 L208.21,771.77 L211.45,771.69 L214.68,771.63 L217.92,771.57 L221.15,771.51 L224.39,771.46 L227.63,771.42 L230.86,771.38 L234.1,771.34 L237.33,771.32 L240.57,771.3 L243.81,771.28 L247.04,771.27 L250.28,771.27 L253.52,771.27 L256.75,771.28 L259.99,771.3 L263.22,771.32 L266.46,771.35 L269.7,771.39 L272.93,771.43 L272.93,771.43 L279.29,770.61 L285.65,769.73 L292.01,768.8 L298.37,767.8 L304.73,766.75 L311.09,765.64 L317.45,764.46 L323.81,763.22 L330.17,761.9 L336.53,760.52 L342.89,759.07 L349.25,757.55 L355.61,755.95 L361.97,754.28 L368.33,752.53 L374.69,750.7 L381.05,748.79 L387.41,746.79 L393.77,744.71 L400.13,742.55 L406.49,740.29 L412.85,737.95 L419.21,735.51 L425.57,732.98 L431.93,730.36 L438.29,727.63 L444.65,724.81 L451.01,721.89 L457.37,718.86 L463.73,715.73 L470.09,712.5 L476.45,709.16 L482.81,705.7 L489.17,702.14 L495.53,698.46 L501.89,694.67 L508.24,690.76 L514.6,686.73 L520.96,682.59 L527.32,678.32 L533.68,673.92 L540.04,669.41 L546.4,664.76 L552.76,659.99 L559.12,655.08 L565.48,650.04 L571.84,644.87 L578.2,639.56 L584.56,634.12 L590.92,628.53 L597.28,622.8 L603.64,616.93 L610,610.92 L616.36,604.76 L622.72,598.45 L629.08,591.99 L635.44,585.38 L641.8,578.61 L648.16,571.69 L648.16,571.69 L380.59,571.69 L380.59,571.69 L376.81,574.35 L373.03,576.99 L369.25,579.6 L365.47,582.19 L361.69,584.75 L357.91,587.29 L354.13,589.81 L350.35,592.3 L346.57,594.77 L342.79,597.22 L339.01,599.64 L335.23,602.04 L331.45,604.42 L327.68,606.78 L323.9,609.12 L320.12,611.44 L316.34,613.73 L312.56,616.01 L308.78,618.26 L305,620.5 L301.22,622.71 L297.44,624.91 L293.66,627.09 L289.88,629.24 L286.1,631.38 L282.32,633.51 L278.54,635.61 L274.76,637.69 L270.98,639.76 L267.2,641.81 L263.42,643.85 L259.64,645.86 L255.86,647.87 L252.08,649.85 L248.3,651.82 L244.52,653.77 L240.74,655.71 L236.96,657.64 L233.18,659.54 L229.41,661.44 L225.63,663.32 L221.85,665.19 L218.07,667.04 L214.29,668.88 L210.51,670.71 L206.73,672.52 L202.95,674.33 L199.17,676.12 L195.39,677.9 L191.61,679.66 L187.83,681.42 L184.05,683.17 L180.27,684.9 L176.49,686.63 L172.71,688.34 L168.93,690.05 L165.15,691.74 L161.37,693.43 L157.59,695.11 L153.81,696.78 L150.03,698.44 L146.25,700.1 L142.47,701.75 L138.69,703.39 L134.91,705.02 L131.14,706.65 L127.36,708.27 L123.58,709.89 L119.8,711.5 L116.02,713.1 L112.24,714.7 L108.46,716.3 L104.68,717.89 L100.9,719.48 L97.12,721.07 L93.34,722.65 L89.56,724.23 L85.78,725.8 L82,727.38 Z" fill="#c6d4e3" fill-opacity="0.82" stroke="none"/><path d="M82,777.22 L84.42,777.09 L86.83,776.95 L89.25,776.82 L91.67,776.69 L94.08,776.56 L96.5,776.43 L98.92,776.3 L101.33,776.17 L103.75,776.05 L106.17,775.92 L108.59,775.79 L111,775.66 L113.42,775.54 L115.84,775.41 L118.25,775.29 L120.67,775.17 L123.09,775.05 L125.5,774.93 L127.92,774.81 L130.34,774.69 L132.75,774.57 L135.17,774.45 L137.59,774.34 L140,774.23 L142.42,774.11 L144.84,774 L147.26,773.89 L149.67,773.79 L152.09,773.68 L154.51,773.57 L156.92,773.47 L159.34,773.37 L161.76,773.27 L164.17,773.17 L166.59,773.08 L169.01,772.98 L171.42,772.89 L173.84,772.8 L176.26,772.71 L178.67,772.63 L181.09,772.54 L183.51,772.46 L185.92,772.38 L188.34,772.31 L190.76,772.23 L193.18,772.16 L195.59,772.09 L198.01,772.02 L200.43,771.96 L202.84,771.89 L205.26,771.84 L207.68,771.78 L210.09,771.72 L212.51,771.67 L214.93,771.62 L217.34,771.58 L219.76,771.54 L222.18,771.5 L224.59,771.46 L227.01,771.43 L229.43,771.39 L231.85,771.37 L234.26,771.34 L236.68,771.32 L239.1,771.3 L241.51,771.29 L243.93,771.28 L246.35,771.27 L248.76,771.27 L251.18,771.27 L253.6,771.27 L256.01,771.28 L258.43,771.29 L260.85,771.3 L263.26,771.32 L265.68,771.34 L268.1,771.37 L270.51,771.4 L272.93,771.43" stroke="#2b5585" stroke-width="1.6" fill="none"/><path d="M82,775.22 L85,774.97 L88,774.71 L91.01,774.46 L94.01,774.21 L97.01,773.96 L100.01,773.71 L103.01,773.46 L106.02,773.22 L109.02,772.97 L112.02,772.73 L115.02,772.48 L118.03,772.24 L121.03,772 L124.03,771.76 L127.03,771.53 L130.03,771.29 L133.04,771.06 L136.04,770.83 L139.04,770.6 L142.04,770.37 L145.04,770.14 L148.05,769.92 L151.05,769.7 L154.05,769.48 L157.05,769.27 L160.06,769.06 L163.06,768.85 L166.06,768.64 L169.06,768.44 L172.06,768.24 L175.07,768.04 L178.07,767.84 L181.07,767.65 L184.07,767.47 L187.07,767.28 L190.08,767.1 L193.08,766.93 L196.08,766.75 L199.08,766.59 L202.09,766.42 L205.09,766.26 L208.09,766.1 L211.09,765.95 L214.09,765.8 L217.1,765.66 L220.1,765.52 L223.1,765.39 L226.1,765.26 L229.1,765.14 L232.11,765.02 L235.11,764.9 L238.11,764.79 L241.11,764.69 L244.11,764.59 L247.12,764.5 L250.12,764.41 L253.12,764.33 L256.12,764.25 L259.13,764.18 L262.13,764.12 L265.13,764.06 L268.13,764.01 L271.13,763.96 L274.14,763.92 L277.14,763.89 L280.14,763.86 L283.14,763.84 L286.14,763.82 L289.15,763.82 L292.15,763.81 L295.15,763.82 L298.15,763.83 L301.16,763.85 L304.16,763.88 L307.16,763.92 L310.16,763.96 L313.16,764.01 L316.17,764.06 L319.17,764.13" stroke="#2b5585" stroke-width="1.6" fill="none"/><path d="M82,772.27 L85.59,771.83 L89.17,771.41 L92.76,770.98 L96.35,770.55 L99.94,770.12 L103.52,769.7 L107.11,769.27 L110.7,768.85 L114.29,768.43 L117.87,768.02 L121.46,767.6 L125.05,767.19 L128.64,766.78 L132.22,766.37 L135.81,765.97 L139.4,765.56 L142.99,765.17 L146.57,764.77 L150.16,764.38 L153.75,763.99 L157.34,763.61 L160.92,763.23 L164.51,762.85 L168.1,762.48 L171.68,762.11 L175.27,761.75 L178.86,761.39 L182.45,761.04 L186.03,760.69 L189.62,760.35 L193.21,760.02 L196.8,759.68 L200.38,759.36 L203.97,759.04 L207.56,758.73 L211.15,758.42 L214.73,758.12 L218.32,757.82 L221.91,757.54 L225.5,757.26 L229.08,756.98 L232.67,756.72 L236.26,756.46 L239.85,756.2 L243.43,755.96 L247.02,755.72 L250.61,755.5 L254.2,755.28 L257.78,755.06 L261.37,754.86 L264.96,754.67 L268.54,754.48 L272.13,754.3 L275.72,754.13 L279.31,753.97 L282.89,753.83 L286.48,753.69 L290.07,753.56 L293.66,753.43 L297.24,753.32 L300.83,753.22 L304.42,753.13 L308.01,753.06 L311.59,752.99 L315.18,752.93 L318.77,752.88 L322.36,752.85 L325.94,752.82 L329.53,752.81 L333.12,752.81 L336.71,752.82 L340.29,752.84 L343.88,752.88 L347.47,752.92 L351.05,752.98 L354.64,753.05 L358.23,753.14 L361.82,753.23 L365.4,753.35" stroke="#2b5585" stroke-width="1.6" fill="none"/><path d="M82,768.17 L86.17,767.5 L90.35,766.82 L94.52,766.15 L98.69,765.47 L102.86,764.8 L107.04,764.13 L111.21,763.47 L115.38,762.8 L119.55,762.14 L123.73,761.49 L127.9,760.83 L132.07,760.18 L136.24,759.54 L140.42,758.9 L144.59,758.26 L148.76,757.63 L152.94,757 L157.11,756.38 L161.28,755.76 L165.45,755.15 L169.63,754.55 L173.8,753.95 L177.97,753.36 L182.14,752.78 L186.32,752.2 L190.49,751.63 L194.66,751.07 L198.83,750.51 L203.01,749.97 L207.18,749.43 L211.35,748.9 L215.53,748.38 L219.7,747.86 L223.87,747.36 L228.04,746.87 L232.22,746.38 L236.39,745.91 L240.56,745.45 L244.73,745 L248.91,744.55 L253.08,744.12 L257.25,743.7 L261.42,743.3 L265.6,742.9 L269.77,742.52 L273.94,742.14 L278.12,741.78 L282.29,741.44 L286.46,741.1 L290.63,740.78 L294.81,740.48 L298.98,740.18 L303.15,739.91 L307.32,739.64 L311.5,739.39 L315.67,739.16 L319.84,738.94 L324.01,738.73 L328.19,738.54 L332.36,738.37 L336.53,738.21 L340.71,738.07 L344.88,737.94 L349.05,737.84 L353.22,737.75 L357.4,737.67 L361.57,737.62 L365.74,737.58 L369.91,737.56 L374.09,737.56 L378.26,737.57 L382.43,737.61 L386.6,737.66 L390.78,737.73 L394.95,737.83 L399.12,737.94 L403.3,738.07 L407.47,738.23 L411.64,738.4" stroke="#2b5585" stroke-width="1.6" fill="none"/><path d="M82,762.76 L86.76,761.75 L91.52,760.75 L96.27,759.75 L101.03,758.75 L105.79,757.76 L110.55,756.77 L115.31,755.78 L120.06,754.8 L124.82,753.82 L129.58,752.84 L134.34,751.87 L139.1,750.91 L143.85,749.95 L148.61,749 L153.37,748.06 L158.13,747.12 L162.88,746.19 L167.64,745.27 L172.4,744.36 L177.16,743.46 L181.92,742.56 L186.67,741.67 L191.43,740.8 L196.19,739.93 L200.95,739.07 L205.71,738.23 L210.46,737.4 L215.22,736.57 L219.98,735.76 L224.74,734.96 L229.5,734.18 L234.25,733.41 L239.01,732.65 L243.77,731.9 L248.53,731.17 L253.29,730.45 L258.04,729.75 L262.8,729.06 L267.56,728.39 L272.32,727.74 L277.08,727.1 L281.83,726.48 L286.59,725.87 L291.35,725.29 L296.11,724.72 L300.87,724.17 L305.62,723.63 L310.38,723.12 L315.14,722.62 L319.9,722.15 L324.65,721.7 L329.41,721.26 L334.17,720.85 L338.93,720.46 L343.69,720.09 L348.44,719.74 L353.2,719.41 L357.96,719.11 L362.72,718.83 L367.48,718.57 L372.23,718.33 L376.99,718.13 L381.75,717.94 L386.51,717.78 L391.27,717.65 L396.02,717.54 L400.78,717.45 L405.54,717.4 L410.3,717.37 L415.06,717.36 L419.81,717.39 L424.57,717.44 L429.33,717.52 L434.09,717.63 L438.85,717.77 L443.6,717.93 L448.36,718.13 L453.12,718.36 L457.88,718.62" stroke="#2b5585" stroke-width="1.6" fill="none"/><path d="M82,755.83 L87.34,754.41 L92.69,752.99 L98.03,751.57 L103.37,750.16 L108.72,748.75 L114.06,747.35 L119.4,745.95 L124.75,744.55 L130.09,743.17 L135.43,741.79 L140.78,740.42 L146.12,739.05 L151.46,737.7 L156.8,736.35 L162.15,735.01 L167.49,733.69 L172.83,732.37 L178.18,731.07 L183.52,729.77 L188.86,728.49 L194.21,727.22 L199.55,725.97 L204.89,724.73 L210.24,723.5 L215.58,722.29 L220.92,721.09 L226.27,719.91 L231.61,718.74 L236.95,717.6 L242.3,716.47 L247.64,715.35 L252.98,714.26 L258.33,713.18 L263.67,712.13 L269.01,711.09 L274.36,710.08 L279.7,709.08 L285.04,708.11 L290.39,707.16 L295.73,706.23 L301.07,705.33 L306.41,704.45 L311.76,703.59 L317.1,702.76 L322.44,701.95 L327.79,701.17 L333.13,700.42 L338.47,699.69 L343.82,698.99 L349.16,698.32 L354.5,697.67 L359.85,697.06 L365.19,696.47 L370.53,695.92 L375.88,695.39 L381.22,694.9 L386.56,694.44 L391.91,694.01 L397.25,693.61 L402.59,693.25 L407.94,692.91 L413.28,692.62 L418.62,692.36 L423.97,692.13 L429.31,691.94 L434.65,691.78 L439.99,691.67 L445.34,691.59 L450.68,691.54 L456.02,691.54 L461.37,691.57 L466.71,691.65 L472.05,691.76 L477.4,691.92 L482.74,692.11 L488.08,692.35 L493.43,692.63 L498.77,692.95 L504.11,693.31" stroke="#2b5585" stroke-width="1.6" fill="none"/><path d="M82,747.21 L87.93,745.26 L93.86,743.32 L99.79,741.39 L105.71,739.46 L111.64,737.53 L117.57,735.62 L123.5,733.71 L129.43,731.8 L135.36,729.91 L141.28,728.03 L147.21,726.15 L153.14,724.29 L159.07,722.44 L165,720.6 L170.93,718.77 L176.86,716.96 L182.78,715.16 L188.71,713.38 L194.64,711.62 L200.57,709.87 L206.5,708.13 L212.43,706.42 L218.35,704.72 L224.28,703.05 L230.21,701.39 L236.14,699.76 L242.07,698.14 L248,696.55 L253.93,694.98 L259.85,693.44 L265.78,691.92 L271.71,690.42 L277.64,688.96 L283.57,687.51 L289.5,686.1 L295.43,684.71 L301.35,683.35 L307.28,682.03 L313.21,680.73 L319.14,679.46 L325.07,678.23 L331,677.02 L336.92,675.85 L342.85,674.72 L348.78,673.62 L354.71,672.55 L360.64,671.52 L366.57,670.53 L372.5,669.57 L378.42,668.65 L384.35,667.77 L390.28,666.93 L396.21,666.13 L402.14,665.37 L408.07,664.66 L413.99,663.98 L419.92,663.35 L425.85,662.76 L431.78,662.22 L437.71,661.72 L443.64,661.27 L449.57,660.86 L455.49,660.51 L461.42,660.2 L467.35,659.94 L473.28,659.72 L479.21,659.56 L485.14,659.45 L491.06,659.4 L496.99,659.39 L502.92,659.44 L508.85,659.54 L514.78,659.69 L520.71,659.9 L526.64,660.17 L532.56,660.5 L538.49,660.88 L544.42,661.32 L550.35,661.81" stroke="#2b5585" stroke-width="1.6" fill="none"/><path d="M82,736.7 L88.51,734.12 L95.03,731.55 L101.54,728.98 L108.05,726.42 L114.57,723.87 L121.08,721.33 L127.6,718.79 L134.11,716.27 L140.62,713.76 L147.14,711.26 L153.65,708.78 L160.16,706.31 L166.68,703.85 L173.19,701.41 L179.71,698.99 L186.22,696.59 L192.73,694.2 L199.25,691.84 L205.76,689.49 L212.27,687.17 L218.79,684.87 L225.3,682.6 L231.82,680.35 L238.33,678.13 L244.84,675.93 L251.36,673.76 L257.87,671.62 L264.38,669.51 L270.9,667.43 L277.41,665.38 L283.93,663.37 L290.44,661.39 L296.95,659.44 L303.47,657.53 L309.98,655.65 L316.49,653.81 L323.01,652.01 L329.52,650.25 L336.04,648.53 L342.55,646.85 L349.06,645.21 L355.58,643.61 L362.09,642.06 L368.6,640.55 L375.12,639.09 L381.63,637.68 L388.15,636.31 L394.66,634.99 L401.17,633.72 L407.69,632.51 L414.2,631.34 L420.71,630.23 L427.23,629.17 L433.74,628.16 L440.26,627.21 L446.77,626.31 L453.28,625.48 L459.8,624.7 L466.31,623.98 L472.82,623.32 L479.34,622.72 L485.85,622.18 L492.37,621.7 L498.88,621.29 L505.39,620.95 L511.91,620.67 L518.42,620.45 L524.93,620.31 L531.45,620.23 L537.96,620.22 L544.48,620.29 L550.99,620.42 L557.5,620.63 L564.02,620.91 L570.53,621.26 L577.04,621.69 L583.56,622.2 L590.07,622.78 L596.59,623.44" stroke="#2b5585" stroke-width="1.6" fill="none"/><path d="M263.07,644.03 L267.88,642.14 L272.69,640.27 L277.49,638.41 L282.3,636.57 L287.11,634.75 L291.91,632.94 L296.72,631.16 L301.53,629.4 L306.34,627.65 L311.14,625.93 L315.95,624.22 L320.76,622.54 L325.56,620.88 L330.37,619.24 L335.18,617.62 L339.98,616.03 L344.79,614.45 L349.6,612.9 L354.4,611.38 L359.21,609.88 L364.02,608.4 L368.83,606.95 L373.63,605.52 L378.44,604.12 L383.25,602.74 L388.05,601.39 L392.86,600.07 L397.67,598.77 L402.47,597.51 L407.28,596.26 L412.09,595.05 L416.9,593.87 L421.7,592.71 L426.51,591.59 L431.32,590.49 L436.12,589.43 L440.93,588.39 L445.74,587.39 L450.54,586.41 L455.35,585.47 L460.16,584.56 L464.96,583.69 L469.77,582.84 L474.58,582.03 L479.39,581.25 L484.19,580.51 L489,579.8 L493.81,579.13 L498.61,578.49 L503.42,577.88 L508.23,577.32 L513.03,576.78 L517.84,576.29 L522.65,575.83 L527.46,575.41 L532.26,575.03 L537.07,574.68 L541.88,574.38 L546.68,574.11 L551.49,573.88 L556.3,573.69 L561.1,573.54 L565.91,573.43 L570.72,573.37 L575.52,573.34 L580.33,573.35 L585.14,573.41 L589.95,573.51 L594.75,573.65 L599.56,573.84 L604.37,574.07 L609.17,574.34 L613.98,574.66 L618.79,575.02 L623.59,575.43 L628.4,575.88 L633.21,576.37 L638.02,576.92 L642.82,577.51" stroke="#2b5585" stroke-width="1.6" fill="none"/><path d="M82,727.38 L85.78,725.8 L89.56,724.23 L93.34,722.65 L97.12,721.07 L100.9,719.48 L104.68,717.89 L108.46,716.3 L112.24,714.7 L116.02,713.1 L119.8,711.5 L123.58,709.89 L127.36,708.27 L131.14,706.65 L134.91,705.02 L138.69,703.39 L142.47,701.75 L146.25,700.1 L150.03,698.44 L153.81,696.78 L157.59,695.11 L161.37,693.43 L165.15,691.74 L168.93,690.05 L172.71,688.34 L176.49,686.63 L180.27,684.9 L184.05,683.17 L187.83,681.42 L191.61,679.66 L195.39,677.9 L199.17,676.12 L202.95,674.33 L206.73,672.52 L210.51,670.71 L214.29,668.88 L218.07,667.04 L221.85,665.19 L225.63,663.32 L229.41,661.44 L233.18,659.54 L236.96,657.64 L240.74,655.71 L244.52,653.77 L248.3,651.82 L252.08,649.85 L255.86,647.87 L259.64,645.86 L263.42,643.85 L267.2,641.81 L270.98,639.76 L274.76,637.69 L278.54,635.61 L282.32,633.51 L286.1,631.38 L289.88,629.24 L293.66,627.09 L297.44,624.91 L301.22,622.71 L305,620.5 L308.78,618.26 L312.56,616.01 L316.34,613.73 L320.12,611.44 L323.9,609.12 L327.68,606.78 L331.45,604.42 L335.23,602.04 L339.01,599.64 L342.79,597.22 L346.57,594.77 L350.35,592.3 L354.13,589.81 L357.91,587.29 L361.69,584.75 L365.47,582.19 L369.25,579.6 L373.03,576.99 L376.81,574.35 L380.59,571.69 L648.16,571.69" stroke="#2b5585" stroke-width="2.4" fill="none" stroke-linejoin="round"/><path d="M82,30.6H724.5" stroke="#6c6c6c" stroke-width="1.2"/><path d="M82,30V508M81,507H725.5M724.5,30V507" stroke="#6c6c6c" stroke-width="2"/><path d="M82,529.5H724.5" stroke="#6c6c6c" stroke-width="1.6"/><path d="M82,529.5V783M724.5,529.5V783" stroke="#6c6c6c" stroke-width="2"/><path d="M81,783H725.5" stroke="#a8a8a8" stroke-width="1.6"/><path d="M77,507.00H82M724.5,507.00H729.5M77,467.25H82M724.5,467.25H729.5M77,427.50H82M724.5,427.50H729.5M77,387.75H82M724.5,387.75H729.5M77,348.00H82M724.5,348.00H729.5M77,308.25H82M724.5,308.25H729.5M77,268.50H82M724.5,268.50H729.5M77,228.75H82M724.5,228.75H729.5M77,189.00H82M724.5,189.00H729.5M77,149.25H82M724.5,149.25H729.5M77,109.50H82M724.5,109.50H729.5M82.00,507V511M125.47,507V511M168.94,507V511M212.41,507V511M255.88,507V511M299.35,507V511M342.82,507V511M386.29,507V511M429.76,507V511M473.23,507V511M516.70,507V511M560.17,507V511M603.64,507V511M647.11,507V511M690.58,507V511M77,783.00H82M77,745.40H82M77,707.80H82M77,670.20H82M77,632.60H82M77,595.00H82M77,557.40H82" stroke="#6a6a6a" stroke-width="1.2"/><g style="font-family:'Liberation Sans',Arial,'Noto Sans CJK SC',sans-serif;font-size:12px;letter-spacing:0.3px" fill="#1a1a1a" stroke="#1a1a1a" stroke-width="0.15"><text x="71.6" y="510.8" text-anchor="end">0</text><text x="734.2" y="510.8">0</text><text x="71.6" y="471.1" text-anchor="end">1</text><text x="734.2" y="471.1">10</text><text x="71.6" y="431.3" text-anchor="end">2</text><text x="734.2" y="431.3">20</text><text x="71.6" y="391.6" text-anchor="end">3</text><text x="734.2" y="391.6">30</text><text x="71.6" y="351.8" text-anchor="end">4</text><text x="734.2" y="351.8">40</text><text x="71.6" y="312.1" text-anchor="end">5</text><text x="734.2" y="312.1">50</text><text x="71.6" y="272.3" text-anchor="end">6</text><text x="734.2" y="272.3">60</text><text x="71.6" y="232.6" text-anchor="end">7</text><text x="734.2" y="232.6">70</text><text x="71.6" y="192.8" text-anchor="end">8</text><text x="734.2" y="192.8">80</text><text x="71.6" y="153.1" text-anchor="end">9</text><text x="734.2" y="153.1">90</text><text x="71.6" y="113.3" text-anchor="end">10</text><text x="734.2" y="113.3">100</text><text x="81.7" y="523.3" text-anchor="middle">0</text><text x="125.2" y="523.3" text-anchor="middle">5</text><text x="168.6" y="523.3" text-anchor="middle">10</text><text x="212.1" y="523.3" text-anchor="middle">15</text><text x="255.6" y="523.3" text-anchor="middle">20</text><text x="299.1" y="523.3" text-anchor="middle">25</text><text x="342.5" y="523.3" text-anchor="middle">30</text><text x="386.0" y="523.3" text-anchor="middle">35</text><text x="429.5" y="523.3" text-anchor="middle">40</text><text x="472.9" y="523.3" text-anchor="middle">45</text><text x="516.4" y="523.3" text-anchor="middle">50</text><text x="559.9" y="523.3" text-anchor="middle">55</text><text x="603.3" y="523.3" text-anchor="middle">60</text><text x="646.8" y="523.3" text-anchor="middle">65</text><text x="676" y="523.3" style="letter-spacing:0.25px">Q [м³/ч]</text><text x="71.6" y="786.8" text-anchor="end" style="letter-spacing:0.3px">0</text><text x="72.6" y="749.2" text-anchor="end" style="letter-spacing:0.6px">0,2</text><text x="72.6" y="711.6" text-anchor="end" style="letter-spacing:0.6px">0,4</text><text x="72.6" y="674.0" text-anchor="end" style="letter-spacing:0.6px">0,6</text><text x="72.6" y="636.4" text-anchor="end" style="letter-spacing:0.6px">0,8</text><text x="72.6" y="598.8" text-anchor="end" style="letter-spacing:0.6px">1,0</text><text x="56" y="40" text-anchor="middle">H</text><text x="56" y="55" text-anchor="middle">[м]</text><text x="754.5" y="40" text-anchor="middle">eta</text><text x="754.5" y="55" text-anchor="middle">[%]</text><text x="48" y="540" text-anchor="middle">P1</text><text x="49.2" y="555" text-anchor="middle" style="letter-spacing:1.2px">[<tspan style="font-size:10.6px">кВт</tspan>]</text></g><rect x="540" y="31" width="184" height="19" fill="#fff" stroke="#6a6a6a" stroke-width="1"/><path d="M724.5,30V50.5" stroke="#111" stroke-width="1.4"/><text x="544.5" y="44.1" style="font-family:'Liberation Sans',Arial,'Noto Sans CJK SC',sans-serif;font-size:12px;letter-spacing:0.56px" fill="#1a1a1a" stroke="#1a1a1a" stroke-width="0.15">MAGNA3 100-80 F, Модель D</text></svg></body></html>
